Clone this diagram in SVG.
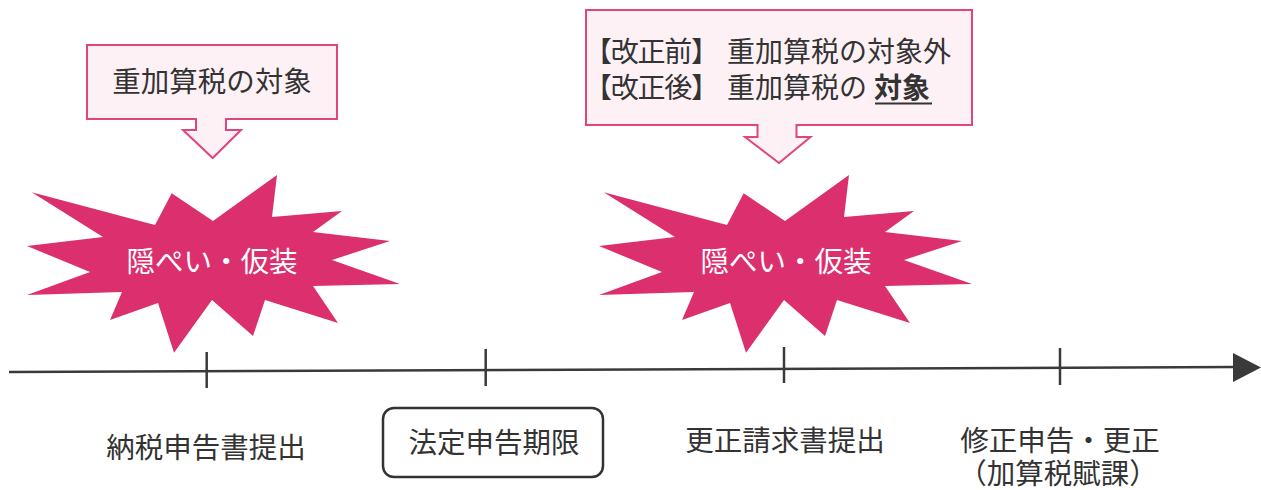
<svg xmlns="http://www.w3.org/2000/svg" width="1261" height="490" viewBox="0 0 1261 490">
  <style>
    text { font-family: "Noto Sans CJK JP", "Noto Sans CJK SC", sans-serif; fill: #333; }
    .lbl { font-size: 28.5px; text-anchor: middle; }
    .box-txt { font-size: 28px; }
    .star-txt { font-size: 28.5px; fill: #fff; text-anchor: middle; }
    .callout { fill: #fdf1f6; stroke: #e0457f; stroke-width: 2; stroke-linejoin: miter; }
    .star { fill: #dc2f6e; }
    .axis { stroke: #3a3a3a; stroke-width: 2.5; fill: none; }
  </style>
  <defs>
    <polygon id="starShape" class="star" points="31.7,192.3 155,225 171.7,193.3 213,221 277,175 272,217 342,211 313,232 390,241 332,260 400,284 313,286 338,323 265,300 253,336 212,300 174,352.7 158,303 110,320 122,292 27,295 90,272 27,246 103,237"/>
  </defs>
  <rect width="1261" height="490" fill="#fff"/>

  <g id="connectors">
    <line class="axis" x1="9" y1="372" x2="1236" y2="367"/>
    <polygon points="1233,353 1261,367.5 1233,382" fill="#3a3a3a"/>
    <line class="axis" x1="206.7" y1="352" x2="206.7" y2="388"/>
    <line class="axis" x1="485.7" y1="349" x2="485.7" y2="386"/>
    <line class="axis" x1="784" y1="347" x2="784" y2="383"/>
    <line class="axis" x1="1060" y1="348" x2="1060" y2="385"/>
  </g>

  <g id="callout-left">
    <path class="callout" d="M87,45 H337 V119 H226 V130 H241 L212.7,158 L183,130 H196 V119 H87 Z"/>
    <text x="212" y="92" style="font-size:28.5px;text-anchor:middle">重加算税の対象</text>
  </g>

  <g id="callout-right">
    <path class="callout" d="M586,10 H972 V125 H796.5 V137 H810.5 L779,163 L745,137 H757.5 V125 H586 Z"/>
    <text class="box-txt" x="584" y="62" textLength="135" lengthAdjust="spacing">【改正前】</text>
    <text class="box-txt" x="727" y="62">重加算税の対象外</text>
    <text class="box-txt" x="584" y="98" textLength="135" lengthAdjust="spacing">【改正後】</text>
    <text class="box-txt" x="727" y="98">重加算税の</text>
    <text class="box-txt" x="874" y="98" font-weight="700">対象</text>
    <line x1="875" y1="103.5" x2="932" y2="103.5" stroke="#333" stroke-width="2"/>
  </g>

  <g id="star-left">
    <use href="#starShape"/>
    <text class="star-txt" x="212" y="272">隠ぺい・仮装</text>
  </g>

  <g id="star-right">
    <use href="#starShape" transform="translate(572,0)"/>
    <text class="star-txt" x="786" y="272">隠ぺい・仮装</text>
  </g>

  <g id="label-filing">
    <text class="lbl" x="206" y="458">納税申告書提出</text>
  </g>

  <g id="label-deadline">
    <rect x="383" y="408" width="220" height="69" rx="11" ry="11" fill="#fff" stroke="#333" stroke-width="2.5"/>
    <text class="lbl" x="494" y="453">法定申告期限</text>
  </g>

  <g id="label-request">
    <text class="lbl" x="785" y="451">更正請求書提出</text>
  </g>

  <g id="label-amend">
    <text class="lbl" x="1060" y="451">修正申告・更正</text>
    <text class="lbl" x="1058" y="484">（加算税賦課）</text>
  </g>
</svg>
